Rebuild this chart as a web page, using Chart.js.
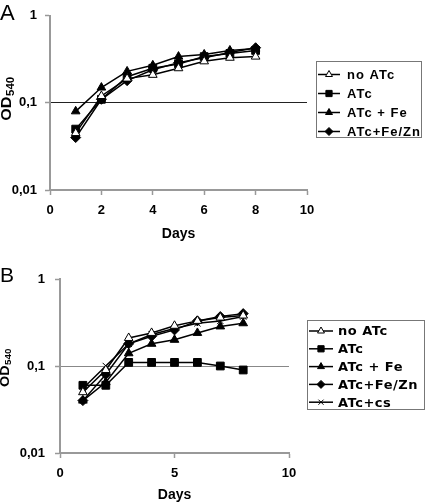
<!DOCTYPE html>
<html>
<head>
<meta charset="utf-8">
<script src="https://cdn.jsdelivr.net/npm/chart.js@4.4.0/dist/chart.umd.min.js"></script>
<style>
  html, body { margin: 0; padding: 0; background: #fff; }
  #wrap { position: relative; width: 425px; height: 504px; }
  .panel { position: absolute; left: 0; width: 425px; }
</style>
</head>
<body>
<div id="wrap">
  <div class="panel" style="top:0;height:250px"><canvas id="chartA"></canvas></div>
  <div class="panel" style="top:250px;height:254px"><canvas id="chartB"></canvas></div>
</div>
<script>
// data
const days = [1, 2, 3, 4, 5, 6, 7, 8];
const seriesNames = ['no ATc', 'ATc', 'ATc + Fe', 'ATc+Fe/Zn', 'ATc+cs'];

// panel A
const aNoATc    = [0.045, 0.12, 0.19, 0.21, 0.25, 0.30, 0.33, 0.34];
const aATc      = [0.05, 0.11, 0.20, 0.25, 0.28, 0.34, 0.37, 0.40];
const aATcFe    = [0.08, 0.15, 0.23, 0.27, 0.34, 0.36, 0.40, 0.42];
const aATcFeZn  = [0.04, 0.11, 0.18, 0.24, 0.29, 0.33, 0.38, 0.43];

// panel B
const bNoATc    = [0.05, 0.09, 0.21, 0.24, 0.29, 0.33, 0.36, 0.38];
const bATc      = [0.06, 0.06, 0.11, 0.11, 0.11, 0.11, 0.10, 0.09];
const bATcFe    = [0.04, 0.065, 0.14, 0.18, 0.20, 0.24, 0.285, 0.31];
const bATcFeZn  = [0.04, 0.08, 0.18, 0.22, 0.26, 0.33, 0.37, 0.40];
const bATcCs    = [0.055, 0.10, 0.18, 0.23, 0.27, 0.31, 0.33, 0.37];

const yTicks = [0.01, 0.1, 1];
const xTicksA = [0, 2, 4, 6, 8, 10];
const xTicksB = [0, 5, 10];

// marker look per series
const pointStyles = ['triangle', 'rect', 'triangle', 'rectRot', 'crossRot'];
const pointFills  = ['#fff', '#000', '#000', '#000', '#000'];
const pointSizes  = [5, 5.5, 5, 5, 4.5];

const tickFont = { family: '"Liberation Sans", Arial, sans-serif', size: 13, weight: 'bold' };

function marker(ctx, style, x, y, r, fill) {
  ctx.beginPath();
  if (style === 'triangle') {
    ctx.moveTo(x, y - r);
    ctx.lineTo(x + r * 0.866, y + r * 0.5);
    ctx.lineTo(x - r * 0.866, y + r * 0.5);
    ctx.closePath();
  } else if (style === 'rect') {
    const s = r * Math.SQRT1_2;
    ctx.rect(x - s, y - s, 2 * s, 2 * s);
  } else if (style === 'rectRot') {
    ctx.moveTo(x, y - r); ctx.lineTo(x + r, y); ctx.lineTo(x, y + r); ctx.lineTo(x - r, y);
    ctx.closePath();
  } else if (style === 'crossRot') {
    const s = r * Math.SQRT1_2;
    ctx.moveTo(x - s, y - s); ctx.lineTo(x + s, y + s);
    ctx.moveTo(x + s, y - s); ctx.lineTo(x - s, y + s);
    ctx.stroke();
    return;
  }
  ctx.fillStyle = fill;
  ctx.fill();
  ctx.stroke();
}

// panel letter, OD540 title and boxed legend
const decor = {
  id: 'decor',
  afterDraw(chart, args, o) {
    const ctx = chart.ctx;
    ctx.save();
    ctx.fillStyle = '#000';
    ctx.font = o.letterSize + 'px "Liberation Sans", Arial, sans-serif';
    ctx.textAlign = 'left';
    ctx.textBaseline = 'alphabetic';
    ctx.fillText(o.letter, o.letterX, o.letterY);

    // rotated OD with subscript 540
    ctx.save();
    ctx.translate(o.odX, o.odY);
    ctx.rotate(-Math.PI / 2);
    ctx.scale(o.odStretch, 1);
    const big = 'bold ' + o.odSize + 'px "Liberation Sans", Arial, sans-serif';
    const small = 'bold ' + Math.round(o.odSize * 0.7) + 'px "Liberation Sans", Arial, sans-serif';
    ctx.font = big;
    const w1 = ctx.measureText('OD').width;
    ctx.font = small;
    const w2 = ctx.measureText('540').width;
    const x0 = -(w1 + w2) / 2;
    const base = o.odSize * 0.36;
    ctx.font = big;
    ctx.fillText('OD', x0, base);
    ctx.font = small;
    ctx.fillText('540', x0 + w1 + 0.5, base + o.odSize * 0.18);
    ctx.restore();

    // legend
    const lg = o.legend;
    ctx.strokeStyle = '#777';
    ctx.lineWidth = 1;
    ctx.strokeRect(lg.x + 0.5, lg.y + 0.5, lg.w, lg.h);
    chart.data.datasets.forEach((ds, i) => {
      const y = lg.row0 + i * lg.rowH;
      ctx.strokeStyle = '#000';
      ctx.lineWidth = 1.5;
      ctx.beginPath();
      ctx.moveTo(lg.x1, y);
      ctx.lineTo(lg.x2, y);
      ctx.stroke();
      ctx.lineWidth = 1;
      marker(ctx, ds.pointStyle, (lg.x1 + lg.x2) / 2, y, ds.pointRadius * 0.8, ds.pointBackgroundColor);
      ctx.fillStyle = '#000';
      ctx.font = lg.font;
      if ('letterSpacing' in ctx) ctx.letterSpacing = lg.spacing;
      ctx.textBaseline = 'middle';
      ctx.fillText(ds.label, lg.textX, y + 1);
      if ('letterSpacing' in ctx) ctx.letterSpacing = '0px';
    });
    ctx.restore();
  }
};

function makeDatasets(seriesList) {
  return seriesList.map((vals, i) => ({
    label: seriesNames[i],
    data: days.map((d, k) => ({ x: d, y: vals[k] })),
    borderColor: '#000',
    borderWidth: 1.5,
    pointStyle: pointStyles[i],
    pointRadius: pointSizes[i],
    pointBackgroundColor: pointFills[i],
    pointBorderColor: '#000',
    pointBorderWidth: 1,
    tension: 0,
    fill: false
  }));
}

function makeChart(id, seriesList, xTicks, p) {
  return new Chart(document.getElementById(id), {
    type: 'line',
    data: { datasets: makeDatasets(seriesList) },
    options: {
      responsive: true,
      maintainAspectRatio: false,
      animation: false,
      layout: { padding: { left: 0, top: p.top, right: p.right, bottom: 0 } },
      plugins: {
        legend: { display: false },
        tooltip: { enabled: false },
        decor: p.decor
      },
      scales: {
        x: {
          type: 'linear',
          min: 0,
          max: 10,
          afterBuildTicks: s => { s.ticks = xTicks.map(v => ({ value: v })); },
          afterFit: s => { s.height = p.xHeight; },
          ticks: { font: tickFont, color: '#000', padding: p.xPad, maxRotation: 0 },
          grid: { drawOnChartArea: false, drawTicks: true, tickLength: 5, tickColor: '#999', tickWidth: 1.5 },
          border: { color: '#999', width: 2 },
          title: {
            display: true,
            text: 'Days',
            color: '#000',
            font: { family: '"Liberation Sans", Arial, sans-serif', size: 14, weight: 'bold' },
            padding: { top: 4, bottom: p.titleBottom }
          }
        },
        y: {
          type: 'logarithmic',
          min: 0.01,
          max: 1,
          afterBuildTicks: s => { s.ticks = yTicks.map(v => ({ value: v })); },
          afterFit: s => { s.width = p.yWidth; },
          ticks: {
            font: tickFont,
            color: '#000',
            padding: p.yPad,
            callback: v => String(v).replace('.', ',')
          },
          grid: {
            drawTicks: true,
            tickLength: 5,
            tickColor: '#999',
            tickWidth: 1.5,
            lineWidth: 1,
            color: c => (c.tick && c.tick.value === 0.1 ? p.gridColor : 'rgba(0,0,0,0)')
          },
          border: { color: '#999', width: 2 }
        }
      }
    },
    plugins: [decor]
  });
}

makeChart('chartA', [aNoATc, aATc, aATcFe, aATcFeZn], xTicksA, {
  top: 10, right: 118, xHeight: 60, yWidth: 50, xPad: 8, yPad: 8, titleBottom: 7,
  gridColor: '#222',
  decor: {
    letter: 'A', letterSize: 22, letterX: 0, letterY: 20,
    odX: 6, odY: 99, odSize: 14, odStretch: 1.15,
    legend: {
      x: 316, y: 61, w: 105, h: 76, row0: 74.5, rowH: 19,
      x1: 318, x2: 340, textX: 347,
      font: 'bold 13px "Liberation Sans", Arial, sans-serif', spacing: '1px'
    }
  }
});

makeChart('chartB', [bNoATc, bATc, bATcFe, bATcFeZn, bATcCs], xTicksB, {
  top: 29, right: 136, xHeight: 51, yWidth: 60, xPad: 8, yPad: 10, titleBottom: 0,
  gridColor: '#888',
  decor: {
    letter: 'B', letterSize: 21, letterX: 0, letterY: 32,
    odX: 4, odY: 118, odSize: 13, odStretch: 1.1,
    legend: {
      x: 307, y: 70, w: 117, h: 89, row0: 81, rowH: 17.8,
      x1: 309, x2: 333, textX: 338,
      font: 'bold 13px "DejaVu Sans", Verdana, sans-serif', spacing: '0.5px'
    }
  }
});
</script>
</body>
</html>
